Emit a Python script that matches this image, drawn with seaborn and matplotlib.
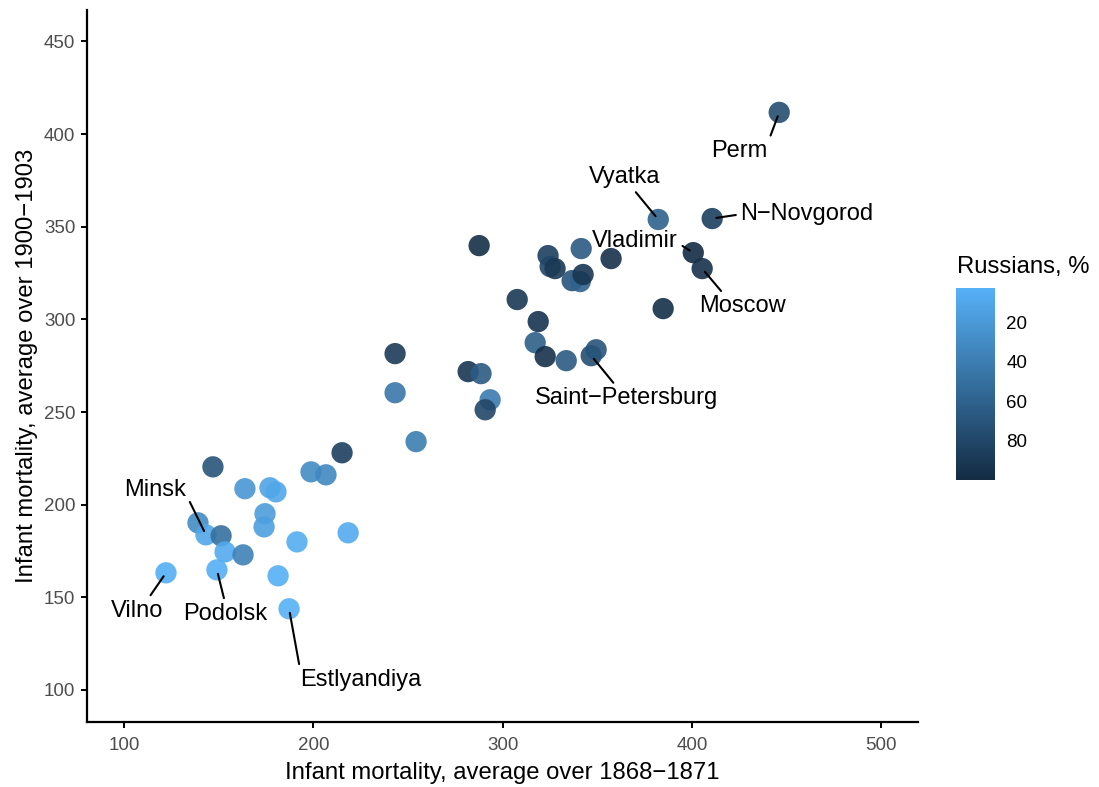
import numpy as np
import pandas as pd
import matplotlib
matplotlib.use("Agg")
import matplotlib.pyplot as plt
from matplotlib.colors import LinearSegmentedColormap, Normalize
from matplotlib.cm import ScalarMappable
import seaborn as sns

# Infant mortality by province (per 1000 births) and share of Russians
mortality_1868 = [446.1, 382.2, 410.7, 400.7, 405.4, 384.8, 357.3, 341.5, 324.0, 325.1,
                  327.7, 336.7, 341.0, 342.5, 287.6, 307.7, 318.8, 317.2, 322.5, 333.6,
                  346.8, 349.4, 281.8, 288.6, 293.4, 290.8, 243.2, 243.2, 254.3, 215.2,
                  147.0, 198.8, 206.7, 163.9, 177.1, 180.3, 174.5, 174.0, 218.4, 139.1,
                  143.3, 151.3, 153.4, 162.9, 191.4, 149.1, 122.2, 181.4, 187.2]
mortality_1900 = [411.7, 353.9, 354.4, 336.0, 327.4, 305.8, 332.8, 338.2, 334.4, 328.5,
                  327.4, 320.9, 320.4, 324.2, 339.8, 310.7, 298.8, 287.4, 279.9, 277.7,
                  280.4, 283.6, 271.8, 270.7, 256.6, 251.2, 281.5, 260.4, 234.0, 228.0,
                  220.4, 217.7, 216.1, 208.6, 209.1, 206.9, 195.1, 188.0, 184.8, 190.2,
                  183.7, 183.2, 174.5, 172.9, 179.9, 164.8, 163.2, 161.6, 143.8]
russians_pct = [75, 60, 85, 99.9, 95, 97, 95, 65, 85, 80,
                90, 70, 60, 92, 97, 90, 93, 62, 95, 65,
                75, 70, 92, 65, 42, 80, 88, 45, 40, 85,
                70, 30, 33, 22, 12, 10, 18, 15, 8, 30,
                10, 50, 8, 38, 6, 5, 5, 4, 2.7]
province = ["Perm", "Vyatka", "N\u2212Novgorod", "Vladimir", "Moscow", "", "", "", "", "",
            "", "", "", "", "", "", "", "", "", "",
            "Saint\u2212Petersburg", "", "", "", "", "", "", "", "", "",
            "", "", "", "", "", "", "", "", "", "",
            "Minsk", "", "", "", "", "Podolsk", "Vilno", "", "Estlyandiya"]

x_ticks = [100, 200, 300, 400, 500]
y_ticks = [100, 150, 200, 250, 300, 350, 400, 450]
legend_ticks = [20, 40, 60, 80]

df = pd.DataFrame({"m1868": mortality_1868, "m1900": mortality_1900,
                   "russians": russians_pct, "province": province})

# label placement: offset of the text from its point (data units) and the
# relative spot on the text box where the leader line starts
label_style = {
    "Perm": ((-21.2, -20.9), (1.0, 0.8)),
    "Vyatka": ((-17.5, 23.0), (0.6, 0.0)),
    "N\u2212Novgorod": ((50.1, 2.3), (0.0, 0.5)),
    "Vladimir": ((-30.7, 6.3), (1.0, 0.4)),
    "Moscow": ((21.1, -20.4), (0.3, 1.0)),
    "Saint\u2212Petersburg": ((18.4, -22.9), (0.45, 1.0)),
    "Minsk": ((-26.9, 24.4), (1.0, 0.3)),
    "Vilno": ((-15.3, -20.4), (0.7, 1.0)),
    "Podolsk": ((4.3, -23.7), (0.5, 1.0)),
    "Estlyandiya": ((38.0, -38.3), (0.0, 0.9)),
}

sns.set_theme(style="ticks")
plt.rcParams["font.family"] = ["Liberation Sans", "DejaVu Sans"]
plt.rcParams["text.color"] = "black"

fig = plt.figure(figsize=(10.99, 7.87), dpi=100)
ax = fig.add_axes([0.0792, 0.0826, 0.7561, 0.9048])

cmap = LinearSegmentedColormap.from_list("ggblue", ["#56B1F7", "#132B43"])
vmin, vmax = min(russians_pct), max(russians_pct)
norm = Normalize(vmin=vmin, vmax=vmax)

sns.scatterplot(data=df, x="m1868", y="m1900", hue="russians", palette=cmap,
                hue_norm=norm, s=235, alpha=0.9, linewidth=0, legend=False, ax=ax)

for _, row in df[df["province"] != ""].iterrows():
    (dx, dy), rel = label_style[row["province"]]
    ax.annotate(row["province"], xy=(row["m1868"], row["m1900"]),
                xytext=(row["m1868"] + dx, row["m1900"] + dy),
                ha="center", va="center", fontsize=17, color="black",
                arrowprops=dict(arrowstyle="-", color="black", lw=1.5,
                                shrinkA=1, shrinkB=3, relpos=rel))

ax.set_xlim(80.5, 519.4)
ax.set_ylim(82.7, 467)
ax.set_xticks(x_ticks)
ax.set_yticks(y_ticks)
ax.set_xlabel("Infant mortality, average over 1868\u22121871", fontsize=17.2, color="black", labelpad=6)
ax.set_ylabel("Infant mortality, average over 1900\u22121903", fontsize=17.2, color="black", labelpad=4)
ax.tick_params(axis="x", pad=6)
ax.tick_params(axis="y", pad=4)
ax.tick_params(axis="both", labelsize=13.5, labelcolor="#4D4D4D", color="black",
               length=4.5, width=1.4)
for side in ("top", "right"):
    ax.spines[side].set_visible(False)
for side in ("left", "bottom"):
    ax.spines[side].set_linewidth(1.6)
    ax.spines[side].set_color("black")

# colour bar for the share of Russians
cax = fig.add_axes([0.870, 0.390, 0.0355, 0.244])
sm = ScalarMappable(norm=norm, cmap=cmap)
cbar = fig.colorbar(sm, cax=cax, ticks=legend_ticks)
cbar.outline.set_visible(False)
cax.invert_yaxis()
cax.tick_params(which="both", left=True, right=True, labelleft=False, labelright=True,
                direction="in", color="white", length=5, width=1.0,
                labelsize=13.5, labelcolor="black", pad=8)
cax.minorticks_off()
fig.text(957 / 1099, 1 - 267 / 787, "Russians, %", fontsize=17.2, ha="left", va="center",
         color="black")

fig.savefig("out.png", dpi=100)
